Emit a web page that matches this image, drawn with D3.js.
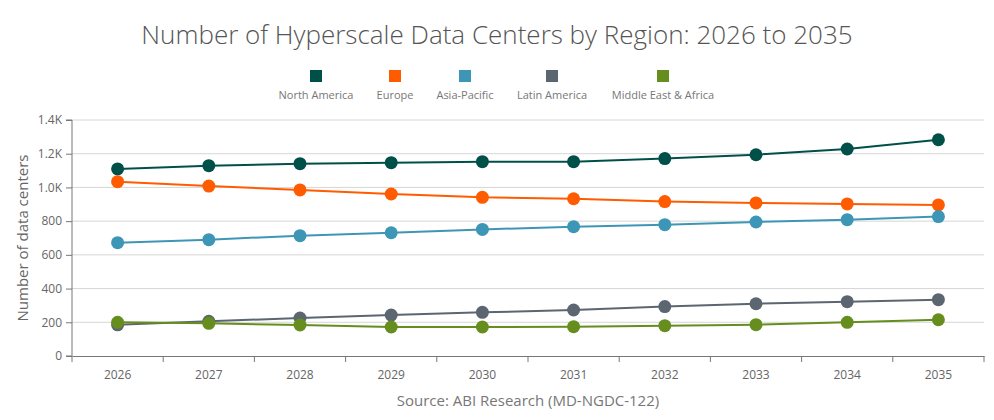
<!DOCTYPE html>
<html>
<head>
<meta charset="utf-8">
<script src="https://cdn.jsdelivr.net/npm/d3@7.9.0/dist/d3.min.js"></script>
<style>
  body { margin: 0; background: #fff; }
  svg { font-family: "Open Sans", sans-serif; }
</style>
</head>
<body>
<svg id="chart" width="994" height="420"></svg>
<script>
// data
const years = ["2026", "2027", "2028", "2029", "2030", "2031", "2032", "2033", "2034", "2035"];
const regions = ["North America", "Europe", "Asia-Pacific", "Latin America", "Middle East & Africa"];
const colors = ["#00504a", "#ff5b00", "#3e96b6", "#5b6670", "#658e1e"];
const northAmerica = [1110, 1129, 1141, 1147, 1153, 1153, 1171, 1194, 1228, 1283];
const europe = [1034, 1008, 985, 961, 941, 933, 916, 908, 902, 896];
const asiaPacific = [672, 690, 714, 731, 751, 767, 779, 795, 809, 827];
const latinAmerica = [185, 206, 225, 243, 259, 273, 293, 310, 322, 334];
const middleEastAfrica = [200, 194, 184, 172, 172, 174, 180, 186, 200, 215];
const yTicks = [0, 200, 400, 600, 800, 1000, 1200, 1400];

const series = [northAmerica, europe, asiaPacific, latinAmerica, middleEastAfrica];

const svg = d3.select("#chart");
const margin = { left: 72, right: 10, top: 120, bottom: 64 };
const width = 994, height = 420;

const x = d3.scaleBand().domain(years).range([margin.left, width - margin.right]);
const y = d3.scaleLinear().domain([0, 1400]).range([height - margin.bottom, margin.top]);

// title
svg.append("text")
    .attr("x", 497).attr("y", 44)
    .attr("text-anchor", "middle")
    .attr("font-size", 26).attr("font-weight", 300)
    .attr("fill", "#555")
    .text("Number of Hyperscale Data Centers by Region: 2026 to 2035");

// legend
const legendX = [316, 395, 465, 552, 663];
const legend = svg.append("g");
regions.forEach((r, i) => {
    legend.append("rect")
        .attr("x", legendX[i] - 6).attr("y", 70)
        .attr("width", 12).attr("height", 12)
        .attr("fill", colors[i]);
    legend.append("text")
        .attr("x", legendX[i]).attr("y", 99)
        .attr("text-anchor", "middle")
        .attr("font-size", 11).attr("fill", "#777")
        .text(r);
});

// gridlines
svg.append("g")
    .selectAll("line")
    .data(yTicks.filter(d => d > 0))
    .enter().append("line")
    .attr("x1", margin.left).attr("x2", width - margin.right)
    .attr("y1", d => y(d)).attr("y2", d => y(d))
    .attr("stroke", "#d6d6d6");

// y axis
const yAxis = svg.append("g")
    .attr("transform", `translate(${margin.left},0)`)
    .call(d3.axisLeft(y).tickValues(yTicks).tickSize(6).tickPadding(4)
        .tickFormat(d => d >= 1000 ? d3.format(".1f")(d / 1000) + "K" : d));
yAxis.select(".domain").attr("stroke", "#777").attr("d", `M-6,${y(1400)}H0V${y(0)}H-6`);
yAxis.selectAll(".tick line").attr("stroke", "#777");
yAxis.selectAll("text").attr("font-size", 12).attr("fill", "#666").attr("font-family", "Open Sans");

// x axis
const xAxis = svg.append("g")
    .attr("transform", `translate(0,${y(0)})`)
    .call(d3.axisBottom(x).tickSize(0).tickPadding(14));
xAxis.select(".domain").attr("stroke", "#777");
xAxis.selectAll("text").attr("font-size", 12).attr("fill", "#666").attr("font-family", "Open Sans");
xAxis.selectAll(".band-tick")
    .data(years.slice(1).concat(["end"]))
    .enter().append("line")
    .attr("x1", (d, i) => x(years[0]) + x.step() * (i + 1))
    .attr("x2", (d, i) => x(years[0]) + x.step() * (i + 1))
    .attr("y1", 0).attr("y2", 6)
    .attr("stroke", "#777");
xAxis.append("line").attr("x1", margin.left).attr("x2", margin.left).attr("y1", 0).attr("y2", 6).attr("stroke", "#777");

// y axis title
svg.append("text")
    .attr("transform", `translate(28,${(y(0) + y(1400)) / 2}) rotate(-90)`)
    .attr("text-anchor", "middle")
    .attr("font-size", 15).attr("fill", "#666")
    .text("Number of data centers");

// source
svg.append("text")
    .attr("x", x(years[0]) + (width - margin.right - margin.left) / 2).attr("y", 406)
    .attr("text-anchor", "middle")
    .attr("font-size", 15).attr("fill", "#777")
    .text("Source: ABI Research (MD-NGDC-122)");

// lines + markers
const cx = d => x(d) + x.bandwidth() / 2;
const line = d3.line().x((d, i) => cx(years[i])).y(d => y(d));

series.forEach((s, i) => {
    const g = svg.append("g");
    g.append("path")
        .datum(s)
        .attr("d", line)
        .attr("fill", "none")
        .attr("stroke", colors[i])
        .attr("stroke-width", 2);
    g.selectAll("circle")
        .data(s)
        .enter().append("circle")
        .attr("cx", (d, j) => cx(years[j]))
        .attr("cy", d => y(d))
        .attr("r", 6.5)
        .attr("fill", colors[i]);
});
</script>
</body>
</html>
